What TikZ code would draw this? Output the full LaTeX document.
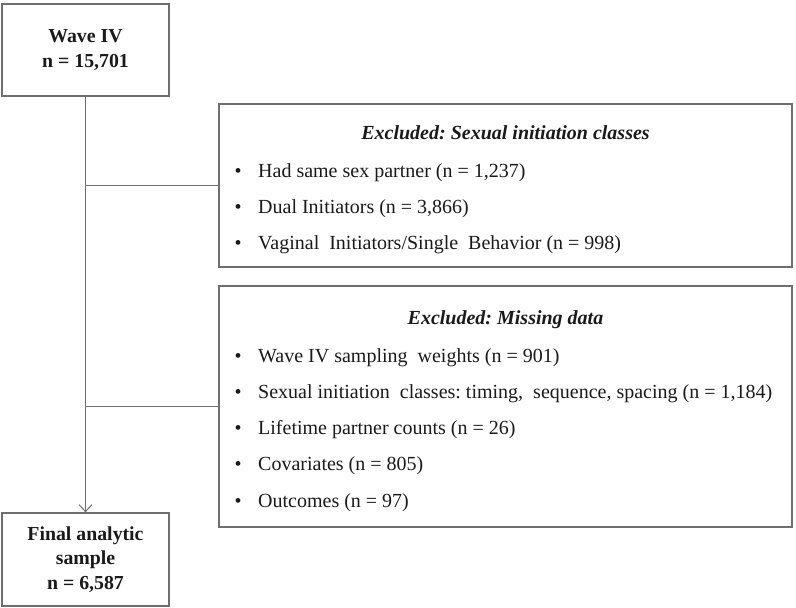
\documentclass[tikz,border=0pt]{standalone}
\usepackage{fontspec}
\setmainfont{Liberation Serif}
\usetikzlibrary{arrows.meta}
\definecolor{linegray}{HTML}{6E6E6E}
\definecolor{txt}{HTML}{1A1A1A}
\frenchspacing
\begin{document}
\begin{tikzpicture}[x=1pt,y=-1pt,
  box/.style={draw=linegray,line width=1.3pt,inner sep=0pt,text=txt},
  leftbox/.style={box,align=center,font=\fontsize{19.8}{24.5}\selectfont\bfseries},
  conn/.style={draw=linegray,line width=1pt},
  head/.style={anchor=base,text=txt,inner sep=0pt,font=\fontsize{20}{24}\selectfont\bfseries\itshape},
  bul/.style={anchor=base,text=txt,inner sep=0pt,font=\fontsize{20}{24}\selectfont},
  item/.style={anchor=base west,text=txt,inner sep=0pt,font=\fontsize{20}{24}\selectfont}]
\useasboundingbox (0,0) rectangle (796,608);
\fill[white] (0,0) rectangle (796,608);
% left boxes
\node[leftbox,minimum width=167pt,minimum height=92pt] (wave) at (85.5,50) {Wave IV\\n = 15,701};
\node[leftbox,minimum width=167pt,minimum height=93pt] (final) at (85.5,559.5) {Final analytic\\sample\\n = 6,587};
% right boxes
\node[box,minimum width=573pt,minimum height=163pt] (exA) at (505.5,185.5) {};
\node[box,minimum width=573pt,minimum height=241pt] (exB) at (505.5,406.5) {};
% connectors
\draw[conn,-{Straight Barb[length=7pt,width=13pt]}] (wave.south) -- (final.north);
\coordinate (jA) at (85.5,185.5);
\coordinate (jB) at (85.5,406.5);
\draw[conn] (jA) -- (exA.west);
\draw[conn] (jB) -- (exB.west);
% box A text
\node[head] (hA) at (505.5,139) {Excluded: Sexual initiation classes};
\node[bul] (bA1) at (238,177) {•};
\node[item] (tA1) at (258,177) {Had same sex partner (n = 1,237)};
\node[bul] (bA2) at (238,213) {•};
\node[item] (tA2) at (258,213) {Dual Initiators (n = 3,866)};
\node[bul] (bA3) at (238,249) {•};
\node[item] (tA3) at (258,249) {Vaginal\ \ Initiators/Single\ \ Behavior (n = 998)};
% box B text
\node[head] (hB) at (505.5,324) {Excluded: Missing data};
\node[bul] (bB1) at (238,362) {•};
\node[item] (tB1) at (258,362) {Wave IV sampling\ \ weights (n = 901)};
\node[bul] (bB2) at (238,398) {•};
\node[item] (tB2) at (258,398) {Sexual initiation\ \ classes: timing,\ \ sequence, spacing (n = 1,184)};
\node[bul] (bB3) at (238,434) {•};
\node[item] (tB3) at (258,434) {Lifetime partner counts (n = 26)};
\node[bul] (bB4) at (238,470) {•};
\node[item] (tB4) at (258,470) {Covariates (n = 805)};
\node[bul] (bB5) at (238,507) {•};
\node[item] (tB5) at (258,507) {Outcomes (n = 97)};
\end{tikzpicture}
\end{document}
